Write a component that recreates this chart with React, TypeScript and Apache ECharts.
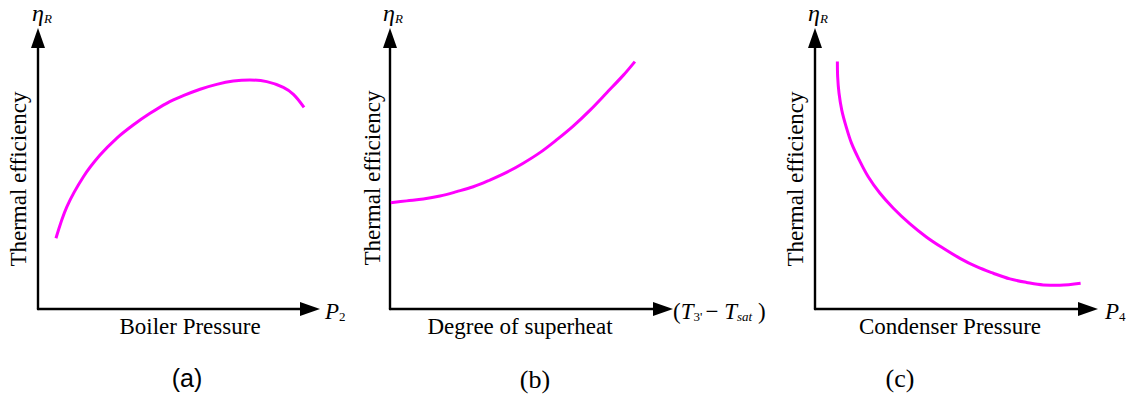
import React, { useEffect, useRef } from "react";
import * as echarts from "echarts";

// Panel (a): Boiler pressure vs thermal efficiency
const boilerPressure = [6.6, 10.6, 16.7, 22.8, 28.9, 35.0, 41.2, 47.3, 53.4, 59.6, 65.7, 71.8, 77.9, 84.1, 90.2, 93.9, 97.8];
const boilerEfficiency = [26.1, 37.7, 48.8, 56.8, 63.0, 67.9, 72.2, 75.9, 78.7, 81.1, 82.9, 84.1, 84.5, 83.9, 81.8, 79.2, 74.4];

// Panel (b): Degree of superheat vs thermal efficiency
const superheat = [0.3, 6.1, 12.2, 18.3, 24.4, 30.5, 36.6, 42.7, 48.8, 54.9, 61.0, 67.1, 73.3, 79.4, 85.5, 89.7];
const superheatEfficiency = [39.2, 39.9, 40.6, 41.7, 43.3, 45.1, 47.6, 50.4, 53.8, 57.7, 62.4, 67.5, 73.4, 79.8, 86.3, 91.3];

// Panel (c): Condenser pressure vs thermal efficiency
const condenserPressure = [8.2, 8.3, 8.8, 9.8, 11.4, 13.4, 16.2, 19.5, 23.8, 28.7, 34.8, 40.9, 47.0, 53.1, 59.2, 65.3, 71.4, 77.5, 83.6, 89.7, 97.3];
const condenserEfficiency = [91.3, 85.7, 79.6, 73.4, 67.3, 61.1, 55.0, 48.8, 42.7, 37.2, 31.4, 26.5, 22.4, 18.7, 15.6, 13.2, 11.1, 9.8, 8.9, 8.8, 9.5];

const xAxisNames = ["Boiler Pressure", "Degree of superheat", "Condenser Pressure"];
const yAxisName = "Thermal efficiency";
const captions = ["(a)", "(b)", "(c)"];

const SERIF = "'Liberation Serif', 'Times New Roman', serif";
const SANS = "'Liberation Sans', Arial, sans-serif";
const MAGENTA = "#ff00ff";

const zip = (xs: number[], ys: number[]) => xs.map((x, i) => [x, ys[i]]);

const grids = [
  { left: 38, top: 38, width: 272, height: 271 },
  { left: 390, top: 38, width: 273, height: 271 },
  { left: 815, top: 38, width: 273, height: 271 },
];

const rich = {
  i: { fontFamily: SERIF, fontStyle: "italic", fontSize: 23, lineHeight: 24, fill: "#000" },
  e: { fontFamily: SERIF, fontStyle: "italic", fontSize: 24, lineHeight: 24, fill: "#000" },
  n: { fontFamily: SERIF, fontSize: 23, lineHeight: 24, fill: "#000" },
  s: { fontFamily: SERIF, fontSize: 13, lineHeight: 13, verticalAlign: "bottom", fill: "#000" },
  si: { fontFamily: SERIF, fontStyle: "italic", fontSize: 13, lineHeight: 13, verticalAlign: "bottom", fill: "#000" },
};

function richText(x: number, y: number, text: string) {
  return {
    type: "text",
    x,
    y,
    style: { text, rich, align: "left", verticalAlign: "middle" },
  };
}

function plainText(x: number, y: number, text: string, font: string, size: number, rotation = 0) {
  return {
    type: "text",
    x,
    y,
    rotation,
    style: {
      text,
      fontFamily: font,
      fontSize: size,
      fill: "#000",
      align: "center",
      verticalAlign: "middle",
    },
  };
}

export default function App() {
  const ref = useRef<HTMLDivElement>(null);

  useEffect(() => {
    document.body.style.margin = "0";
    if (!ref.current) return;
    const chart = echarts.init(ref.current, undefined, { renderer: "svg" });

    const axisCommon = {
      type: "value",
      min: 0,
      max: 100,
      axisTick: { show: false },
      axisLabel: { show: false },
      splitLine: { show: false },
      axisLine: {
        show: true,
        onZero: false,
        symbol: ["none", "triangle"],
        symbolSize: [14, 20],
        lineStyle: { color: "#000", width: 2.4 },
      },
    };

    const seriesData = [
      zip(boilerPressure, boilerEfficiency),
      zip(superheat, superheatEfficiency),
      zip(condenserPressure, condenserEfficiency),
    ];

    chart.setOption({
      animation: false,
      backgroundColor: "#fff",
      grid: grids,
      xAxis: grids.map((_, i) => ({ ...axisCommon, gridIndex: i })),
      yAxis: grids.map((_, i) => ({ ...axisCommon, gridIndex: i })),
      series: seriesData.map((data, i) => ({
        type: "line",
        xAxisIndex: i,
        yAxisIndex: i,
        data,
        smooth: 0.35,
        showSymbol: false,
        lineStyle: { color: MAGENTA, width: 3 },
      })),
      graphic: [
        // eta_R labels
        richText(32, 13, "{e|η}{si|R}"),
        richText(383, 13, "{e|η}{si|R}"),
        richText(808, 13, "{e|η}{si|R}"),
        // axis end labels
        richText(325, 311, "{i|P}{s|2}"),
        richText(673, 311, "{n|(}{i|T}{s|3' }{n|− }{i|T}{si|sat}{n| )}"),
        richText(1105, 311, "{i|P}{s|4}"),
        // y-axis titles
        plainText(18, 179, yAxisName, SERIF, 23, Math.PI / 2),
        plainText(372, 178, yAxisName, SERIF, 23, Math.PI / 2),
        plainText(795, 179, yAxisName, SERIF, 23, Math.PI / 2),
        // x-axis titles
        plainText(190, 326, xAxisNames[0], SERIF, 23),
        plainText(520, 326, xAxisNames[1], SERIF, 23),
        plainText(950, 326, xAxisNames[2], SERIF, 23),
        // captions
        plainText(187, 378, captions[0], SANS, 25),
        plainText(535, 379, captions[1], SERIF, 26),
        plainText(900, 378, captions[2], SERIF, 26),
      ],
    });

    return () => chart.dispose();
  }, []);

  return (
    <div
      ref={ref}
      style={{ position: "fixed", left: 0, top: 0, width: 1129, height: 394, background: "#fff" }}
    />
  );
}
